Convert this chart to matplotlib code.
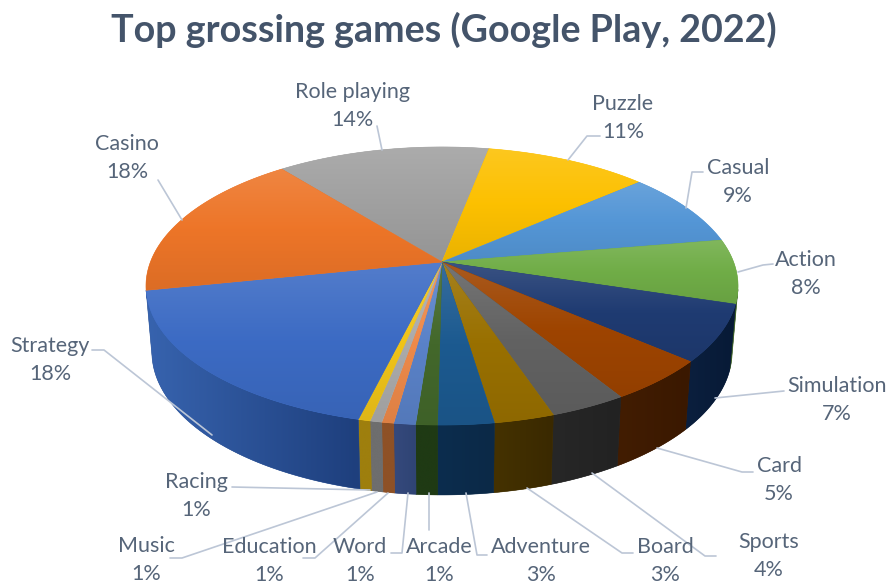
import numpy as np
import matplotlib.pyplot as plt
from matplotlib.colors import LinearSegmentedColormap, to_rgb
from matplotlib.patches import Polygon

categories = ["Role playing", "Puzzle", "Casual", "Action", "Simulation", "Card", "Sports", "Board",
              "Adventure", "Arcade", "Word", "Education", "Music", "Racing", "Strategy", "Casino"]
shares = [13.8, 10.6, 8.8, 7.5, 6.6, 4.9, 3.6, 2.8, 2.6, 1.0, 1.0, 0.55, 0.55, 0.55, 18.0, 17.6]

top_colors = ["#a0a0a0", "#fcc000", "#5496d6", "#70ad47", "#1f3b72", "#9e4400", "#626262", "#997000",
              "#1c5a90", "#43682b", "#5a82c8", "#ee8a4a", "#ababab", "#f0c419", "#3c6bc4", "#ed7528"]
side_left = ["#666666", "#8a6a00", "#2f5a85", "#3c5f26", "#0b1f3e", "#421d02", "#272727", "#453200",
             "#0c2d4e", "#1f3a14", "#35497c", "#8e5126", "#6e6e6e", "#9e7f0e", "#3763ae", "#8a4a1c"]
side_right = ["#666666", "#8a6a00", "#2f5a85", "#3c5f26", "#071a36", "#3a1800", "#222222", "#3a2900",
              "#0b2947", "#1f3a14", "#2f4474", "#8e5126", "#6e6e6e", "#9e7f0e", "#1e3f7d", "#8a4a1c"]

label_xy = [(352, 91.5), (623, 103.5), (738, 167.5), (806, 259.5), (837, 385.5), (779, 465.5), (769, 542.5), (665, 547),
            (541, 547), (439, 547), (360, 547), (269, 547), (146, 545.5), (196, 481.5), (50, 345.5), (127, 143.5)]
leaders = [
    [(377, 126), (382, 150)],
    [(600, 136), (587, 136), (568, 160)],
    [(703, 172), (692, 172), (686, 208)],
    [(773, 264), (763, 265), (738, 272)],
    [(784, 391), (715, 398)],
    [(753, 472), (742, 472), (657, 448)],
    [(716, 556), (705, 556), (592, 473)],
    [(633, 553), (622, 553), (527, 488)],
    [(487, 555), (477, 555), (466, 493)],
    [(429, 530), (429, 493)],
    [(391, 553), (402, 553), (408, 493)],
    [(303, 558), (315, 558), (388, 493)],
    [(170, 558), (182, 558), (377, 492)],
    [(232, 487), (370, 490)],
    [(92, 350), (104, 350), (212, 435)],
    [(158, 180), (182, 220)],
]

# projected disc: centre, radius and perspective of the top face
cx, cy = 442, 262
rx, ry, persp = 291.6, 134.9, 0.1726
start = -38.6


def rim(theta):
    u, v = np.sin(theta), -np.cos(theta)
    w = 1 - persp * v
    return rx * u / w, ry * v / w


def top_edge(theta):
    x, y = rim(theta)
    return cx + x, cy + y


def bottom_edge(theta):
    x, y = rim(theta)
    return cx + 0.98 * x, cy + 65 + 1.03 * y


def shade(c, amount):
    c = np.array(to_rgb(c))
    if amount > 0:
        return tuple(c + (1 - c) * amount)
    return tuple(c * (1 + amount))


def gradient_fill(ax, xy, cmap, horizontal=False, zorder=2):
    patch = Polygon(xy, closed=True, fc=cmap(0.5), ec=cmap(0.5), lw=0.4, zorder=zorder)
    ax.add_patch(patch)
    x0, y0 = xy.min(axis=0)
    x1, y1 = xy.max(axis=0)
    ramp = np.linspace(0, 1, 64)
    ramp = ramp[None, :] if horizontal else ramp[:, None]
    im = ax.imshow(ramp, cmap=cmap, vmin=0, vmax=1, extent=(x0, x1, y1, y0), origin="upper",
                   aspect="auto", interpolation="bilinear", zorder=zorder)
    im.set_clip_path(patch)


plt.rcParams["font.family"] = ["Lato", "DejaVu Sans"]
fig = plt.figure(figsize=(8.88, 5.84), dpi=100)
ax = fig.add_axes([0, 0, 1, 1])

fractions = np.array(shares) / np.sum(shares)
edges = np.radians(start + 360 * np.concatenate([[0], np.cumsum(fractions)]))

# side wall, only where it faces the viewer
for i in range(len(shares)):
    t = np.linspace(edges[i], edges[i + 1], 60)
    t = t[np.cos(t) < -0.195]
    if len(t) < 2:
        continue
    tx, ty = top_edge(t)
    bx, by = bottom_edge(t)
    xy = np.column_stack([np.r_[tx, bx[::-1]], np.r_[ty, by[::-1]]])
    colors = [side_left[i], side_right[i]]
    gradient_fill(ax, xy, LinearSegmentedColormap.from_list("side", colors), horizontal=True, zorder=2)

# top face slices, lit from above
for i in range(len(shares)):
    t = np.linspace(edges[i], edges[i + 1], 120)
    x, y = top_edge(t)
    xy = np.column_stack([np.r_[cx, x], np.r_[cy, y]])
    c = top_colors[i]
    cmap = LinearSegmentedColormap.from_list("top", [shade(c, 0.12), shade(c, 0.0), shade(c, -0.07)])
    gradient_fill(ax, xy, cmap, zorder=3)

for pts in leaders:
    pts = np.array(pts)
    ax.plot(pts[:, 0], pts[:, 1], color="#bcc6d6", lw=1.2, zorder=4, solid_capstyle="round")

for name, share, (x, y) in zip(categories, shares, label_xy):
    ax.text(x, y, name, ha="center", va="center", fontsize=15.5, color="#566579", zorder=5)
    ax.text(x, y + 28, f"{share:.0f}%", ha="center", va="center", fontsize=15.5, color="#566579", zorder=5)

ax.text(444, 30, "Top grossing games (Google Play, 2022)", ha="center", va="center",
        fontsize=27.1, fontweight="bold", color="#44546a")

ax.set_xlim(0, 888)
ax.set_ylim(584, 0)
ax.axis("off")
fig.savefig("out.png", dpi=100)
